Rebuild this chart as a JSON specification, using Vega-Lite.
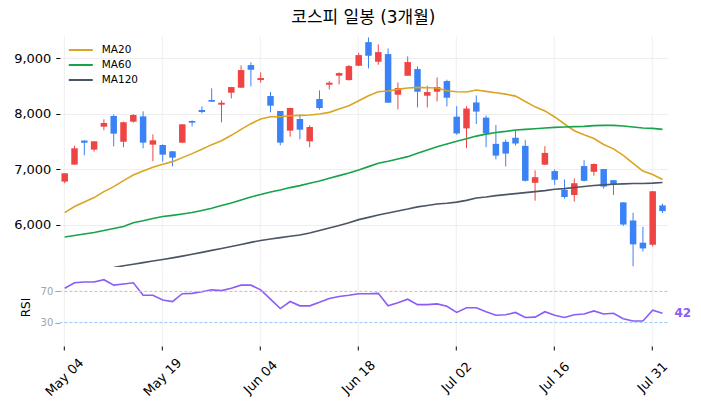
{
  "$schema": "https://vega.github.io/schema/vega-lite/v6.json",
  "padding": {"left": 12.8, "top": 9, "right": 5, "bottom": 5},
  "background": "white",
  "title": {"text": "코스피 일봉 (3개월)", "anchor": "middle", "fontSize": 17, "fontWeight": "normal", "color": "black", "font": "DejaVu Sans, Noto Sans CJK KR", "offset": 9, "dx": 11},
  "config": {"view": {"stroke": null}, "font": "DejaVu Sans"},
  "data": {"values": [
    {"date":"May 04","open":6780,"high":6930,"low":6750,"close":6930,"ma20":6220,"ma60":5782,"ma120":5130,"rsi":74},
    {"date":"May 06","open":7086,"high":7428,"low":7086,"close":7380,"ma20":6330,"ma60":5809,"ma120":5150,"rsi":81},
    {"date":"May 07","open":7520,"high":7525,"low":7254,"close":7480,"ma20":6414,"ma60":5836,"ma120":5170,"rsi":82},
    {"date":"May 08","open":7356,"high":7510,"low":7320,"close":7506,"ma20":6492,"ma60":5863,"ma120":5190,"rsi":82},
    {"date":"May 11","open":7770,"high":7902,"low":7704,"close":7836,"ma20":6600,"ma60":5899,"ma120":5210,"rsi":85},
    {"date":"May 12","open":7962,"high":7992,"low":7416,"close":7644,"ma20":6690,"ma60":5935,"ma120":5230,"rsi":78},
    {"date":"May 13","open":7500,"high":7860,"low":7398,"close":7848,"ma20":6798,"ma60":5971,"ma120":5262,"rsi":79.5},
    {"date":"May 14","open":7860,"high":7998,"low":7842,"close":7980,"ma20":6900,"ma60":6040,"ma120":5290,"rsi":81},
    {"date":"May 15","open":7956,"high":8046,"low":7380,"close":7482,"ma20":6972,"ma60":6075,"ma120":5320,"rsi":65},
    {"date":"May 18","open":7446,"high":7632,"low":7146,"close":7524,"ma20":7038,"ma60":6115,"ma120":5348,"rsi":65},
    {"date":"May 19","open":7440,"high":7452,"low":7140,"close":7266,"ma20":7092,"ma60":6150,"ma120":5376,"rsi":59},
    {"date":"May 20","open":7326,"high":7332,"low":7056,"close":7212,"ma20":7140,"ma60":6172,"ma120":5405,"rsi":57},
    {"date":"May 21","open":7482,"high":7815,"low":7480,"close":7812,"ma20":7212,"ma60":6197,"ma120":5437,"rsi":67},
    {"date":"May 22","open":7872,"high":7884,"low":7776,"close":7842,"ma20":7284,"ma60":6222,"ma120":5470,"rsi":67.5},
    {"date":"May 26","open":8070,"high":8136,"low":8010,"close":8034,"ma20":7362,"ma60":6260,"ma120":5505,"rsi":69.5},
    {"date":"May 27","open":8250,"high":8460,"low":8214,"close":8220,"ma20":7446,"ma60":6300,"ma120":5540,"rsi":72},
    {"date":"May 28","open":8166,"high":8244,"low":7848,"close":8202,"ma20":7518,"ma60":6348,"ma120":5575,"rsi":71},
    {"date":"May 29","open":8382,"high":8486,"low":8280,"close":8484,"ma20":7614,"ma60":6396,"ma120":5610,"rsi":74},
    {"date":"Jun 01","open":8472,"high":8874,"low":8470,"close":8790,"ma20":7722,"ma60":6450,"ma120":5648,"rsi":78},
    {"date":"Jun 02","open":8880,"high":8928,"low":8496,"close":8796,"ma20":7824,"ma60":6504,"ma120":5685,"rsi":78},
    {"date":"Jun 04","open":8610,"high":8748,"low":8562,"close":8646,"ma20":7908,"ma60":6546,"ma120":5718,"rsi":72},
    {"date":"Jun 05","open":8322,"high":8394,"low":8028,"close":8148,"ma20":7950,"ma60":6594,"ma120":5745,"rsi":60},
    {"date":"Jun 08","open":8052,"high":8052,"low":7434,"close":7482,"ma20":7950,"ma60":6630,"ma120":5770,"rsi":48},
    {"date":"Jun 09","open":7698,"high":8112,"low":7590,"close":8106,"ma20":7968,"ma60":6672,"ma120":5795,"rsi":57},
    {"date":"Jun 10","open":7908,"high":7992,"low":7542,"close":7716,"ma20":7974,"ma60":6708,"ma120":5817,"rsi":51.5},
    {"date":"Jun 11","open":7506,"high":7794,"low":7398,"close":7764,"ma20":7980,"ma60":6750,"ma120":5855,"rsi":51.5},
    {"date":"Jun 12","open":8268,"high":8424,"low":8076,"close":8106,"ma20":7998,"ma60":6792,"ma120":5900,"rsi":56},
    {"date":"Jun 15","open":8526,"high":8592,"low":8442,"close":8562,"ma20":8028,"ma60":6840,"ma120":5944,"rsi":61},
    {"date":"Jun 16","open":8688,"high":8748,"low":8532,"close":8736,"ma20":8088,"ma60":6888,"ma120":5990,"rsi":63.5},
    {"date":"Jun 17","open":8610,"high":8880,"low":8600,"close":8862,"ma20":8148,"ma60":6936,"ma120":6040,"rsi":65},
    {"date":"Jun 18","open":8868,"high":9102,"low":8862,"close":9060,"ma20":8238,"ma60":6990,"ma120":6095,"rsi":67},
    {"date":"Jun 19","open":9294,"high":9378,"low":8820,"close":9048,"ma20":8328,"ma60":7050,"ma120":6135,"rsi":67},
    {"date":"Jun 22","open":8940,"high":9252,"low":8886,"close":9114,"ma20":8400,"ma60":7110,"ma120":6178,"rsi":67.5},
    {"date":"Jun 23","open":9078,"high":9180,"low":8200,"close":8202,"ma20":8412,"ma60":7146,"ma120":6215,"rsi":51.5},
    {"date":"Jun 24","open":8346,"high":8568,"low":8082,"close":8466,"ma20":8442,"ma60":7188,"ma120":6250,"rsi":55.5},
    {"date":"Jun 25","open":8688,"high":9036,"low":8686,"close":8934,"ma20":8466,"ma60":7230,"ma120":6285,"rsi":60},
    {"date":"Jun 26","open":8808,"high":8856,"low":8118,"close":8400,"ma20":8478,"ma60":7290,"ma120":6325,"rsi":53},
    {"date":"Jun 29","open":8328,"high":8508,"low":8118,"close":8394,"ma20":8472,"ma60":7350,"ma120":6350,"rsi":53},
    {"date":"Jun 30","open":8400,"high":8658,"low":8226,"close":8484,"ma20":8466,"ma60":7410,"ma120":6375,"rsi":54},
    {"date":"Jul 01","open":8592,"high":8616,"low":8136,"close":8292,"ma20":8418,"ma60":7458,"ma120":6390,"rsi":51},
    {"date":"Jul 02","open":7951,"high":8139,"low":7624,"close":7648,"ma20":8400,"ma60":7509,"ma120":6410,"rsi":43},
    {"date":"Jul 03","open":7739,"high":8139,"low":7382,"close":8097,"ma20":8394,"ma60":7551,"ma120":6442,"rsi":49},
    {"date":"Jul 06","open":8206,"high":8333,"low":7818,"close":8042,"ma20":8430,"ma60":7600,"ma120":6485,"rsi":49},
    {"date":"Jul 07","open":7933,"high":7970,"low":7400,"close":7648,"ma20":8406,"ma60":7636,"ma120":6503,"rsi":44},
    {"date":"Jul 08","open":7460,"high":7800,"low":7182,"close":7248,"ma20":8382,"ma60":7666,"ma120":6527,"rsi":39.5},
    {"date":"Jul 09","open":7497,"high":7539,"low":7054,"close":7285,"ma20":8357,"ma60":7685,"ma120":6545,"rsi":40},
    {"date":"Jul 10","open":7570,"high":7703,"low":7430,"close":7467,"ma20":8321,"ma60":7709,"ma120":6564,"rsi":43},
    {"date":"Jul 13","open":7424,"high":7527,"low":6782,"close":6794,"ma20":8224,"ma60":7721,"ma120":6582,"rsi":36.5},
    {"date":"Jul 14","open":6758,"high":6982,"low":6436,"close":6860,"ma20":8127,"ma60":7733,"ma120":6600,"rsi":37},
    {"date":"Jul 15","open":7085,"high":7418,"low":7080,"close":7297,"ma20":8054,"ma60":7745,"ma120":6618,"rsi":44},
    {"date":"Jul 16","open":6970,"high":7000,"low":6721,"close":6812,"ma20":7945,"ma60":7757,"ma120":6642,"rsi":39.5},
    {"date":"Jul 20","open":6630,"high":6818,"low":6473,"close":6503,"ma20":7818,"ma60":7763,"ma120":6654,"rsi":36.5},
    {"date":"Jul 21","open":6539,"high":6836,"low":6418,"close":6751,"ma20":7697,"ma60":7770,"ma120":6673,"rsi":40},
    {"date":"Jul 22","open":7060,"high":7164,"low":6782,"close":6794,"ma20":7624,"ma60":7776,"ma120":6691,"rsi":41},
    {"date":"Jul 23","open":6957,"high":7109,"low":6885,"close":7097,"ma20":7557,"ma60":7788,"ma120":6709,"rsi":45},
    {"date":"Jul 24","open":7006,"high":7006,"low":6654,"close":6691,"ma20":7448,"ma60":7794,"ma120":6721,"rsi":41},
    {"date":"Jul 27","open":6806,"high":6806,"low":6539,"close":6727,"ma20":7370,"ma60":7794,"ma120":6733,"rsi":42},
    {"date":"Jul 28","open":6406,"high":6406,"low":5982,"close":6006,"ma20":7254,"ma60":7782,"ma120":6739,"rsi":35},
    {"date":"Jul 29","open":6079,"high":6218,"low":5255,"close":5649,"ma20":7109,"ma60":7763,"ma120":6745,"rsi":32},
    {"date":"Jul 30","open":5679,"high":5964,"low":5521,"close":5576,"ma20":6970,"ma60":7745,"ma120":6745,"rsi":32},
    {"date":"Jul 31","open":5642,"high":6612,"low":5612,"close":6606,"ma20":6909,"ma60":7739,"ma120":6752,"rsi":46},
    {"date":"Aug 03","open":6351,"high":6382,"low":6212,"close":6248,"ma20":6818,"ma60":7721,"ma120":6764,"rsi":42}
  ]},
  "spacing": 1,
  "vconcat": [
    {
      "width": 607.6,
      "height": 231,
      "encoding": {
        "x": {
          "field": "date",
          "type": "ordinal",
          "sort": null,
          "scale": {"type": "band", "paddingInner": 0, "paddingOuter": 0},
          "axis": {"title": null, "values": ["May 04", "May 19", "Jun 04", "Jun 18", "Jul 02", "Jul 16", "Jul 31"], "labels": false, "ticks": false, "domain": false, "grid": true, "gridColor": "#eeeeee"}
        }
      },
      "layer": [
        {
          "mark": {"type": "rule", "strokeWidth": 1},
          "encoding": {
            "y": {
              "field": "low",
              "type": "quantitative",
              "scale": {"domain": [5241, 9404], "nice": false, "zero": false},
              "axis": {"title": null, "values": [6000, 7000, 8000, 9000], "format": ",d", "labelFontSize": 13, "labelColor": "black", "tickColor": "black", "tickSize": 4, "labelPadding": 5, "domain": false, "grid": true, "gridColor": "#eeeeee"}
            },
            "y2": {"field": "high"},
            "color": {"condition": {"test": "datum.close >= datum.open", "value": "#ef4444"}, "value": "#3b82f6"}
          }
        },
        {
          "mark": {"type": "bar", "size": 6.5},
          "encoding": {
            "y": {"field": "open", "type": "quantitative"},
            "y2": {"field": "close"},
            "color": {"condition": {"test": "datum.close >= datum.open", "value": "#ef4444"}, "value": "#3b82f6"}
          }
        },
        {
          "transform": [{"fold": ["ma20", "ma60", "ma120"], "as": ["ma", "value"]}],
          "mark": {"type": "line", "strokeWidth": 1.6, "clip": true},
          "encoding": {
            "y": {"field": "value", "type": "quantitative"},
            "color": {
              "field": "ma",
              "type": "nominal",
              "scale": {"domain": ["ma20", "ma60", "ma120"], "range": ["#daa520", "#16a34a", "#4b5563"]},
              "legend": {"title": null, "orient": "top-left", "offset": 8, "symbolType": "stroke", "symbolSize": 576, "symbolStrokeWidth": 2, "clipHeight": 12, "rowPadding": 3, "labelFontSize": 10.5, "labelOffset": 8, "labelColor": "black", "labelExpr": "upper(datum.label)"}
            }
          }
        }
      ]
    },
    {
      "width": 607.6,
      "height": 78,
      "encoding": {
        "x": {
          "field": "date",
          "type": "ordinal",
          "sort": null,
          "scale": {"type": "band", "paddingInner": 0, "paddingOuter": 0},
          "axis": {"title": null, "values": ["May 04", "May 19", "Jun 04", "Jun 18", "Jul 02", "Jul 16", "Jul 31"], "labelAngle": -45, "labelAlign": "center", "labelBaseline": "middle", "labelFontSize": 13, "labelColor": "black", "labelPadding": 27, "tickColor": "black", "tickSize": 4, "domain": false, "grid": true, "gridColor": "#eeeeee"}
        }
      },
      "layer": [
        {
          "mark": {"type": "line", "color": "#8b5cf6", "strokeWidth": 1.6},
          "encoding": {
            "y": {
              "field": "rsi",
              "type": "quantitative",
              "scale": {"domain": [0, 100], "nice": false},
              "axis": {"title": "RSI", "titleFontSize": 12, "titleFontWeight": "normal", "titleColor": "black", "titlePadding": 8, "values": [30, 70], "labelFontSize": 10, "labelColor": "#9ca3af", "tickColor": "#9ca3af", "tickSize": 5, "domain": false, "grid": false}
            }
          }
        },
        {
          "data": {"values": [{"level": 70}]},
          "mark": {"type": "rule", "color": "#fca5a5", "strokeDash": [3, 2], "strokeWidth": 1},
          "encoding": {"x": null, "y": {"field": "level", "type": "quantitative"}}
        },
        {
          "data": {"values": [{"level": 30}]},
          "mark": {"type": "rule", "color": "#93c5fd", "strokeDash": [3, 2], "strokeWidth": 1},
          "encoding": {"x": null, "y": {"field": "level", "type": "quantitative"}}
        },
        {
          "transform": [{"filter": "datum.date === 'Aug 03'"}],
          "mark": {"type": "text", "align": "left", "dx": 12, "fontSize": 12, "fontWeight": "bold", "color": "#8b5cf6"},
          "encoding": {
            "y": {"field": "rsi", "type": "quantitative"},
            "text": {"field": "rsi", "type": "quantitative", "format": ".0f"}
          }
        }
      ]
    }
  ]
}
